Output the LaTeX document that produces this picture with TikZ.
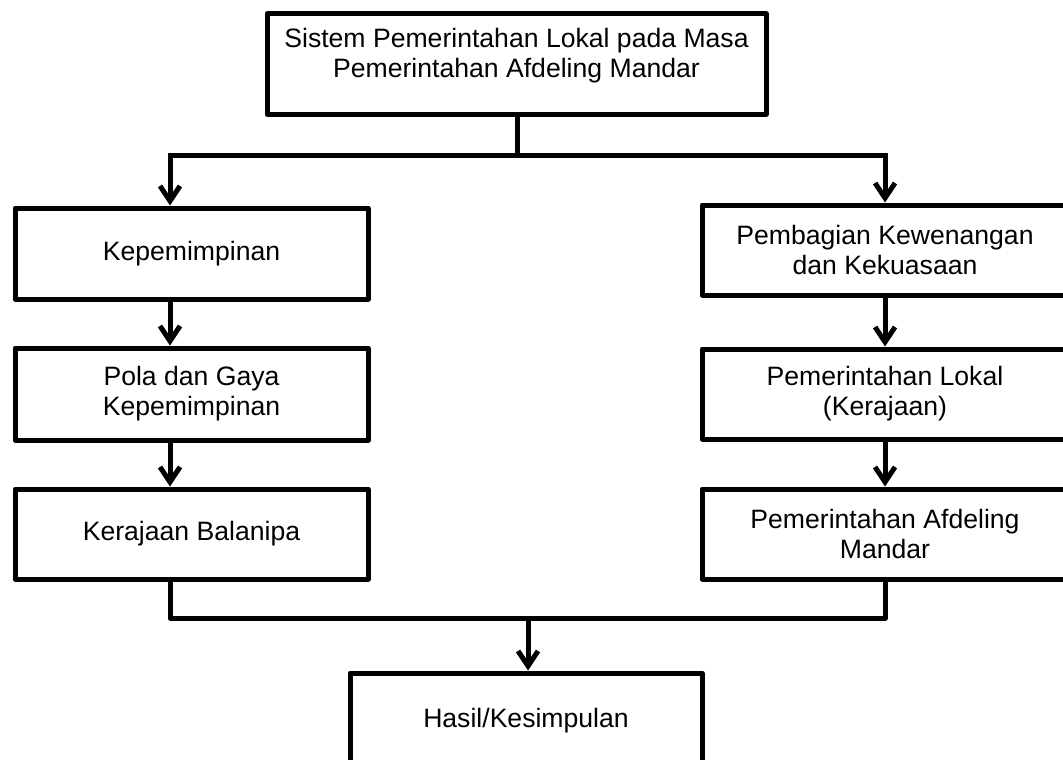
\documentclass[tikz,border=0pt]{standalone}
\usepackage{fontspec}
\setmainfont{Liberation Sans}
\usetikzlibrary{arrows.meta}
\begin{document}
\begin{tikzpicture}[x=1pt,y=1pt,
  box/.style={draw=black, line width=5pt, line join=round, align=center,
    font=\fontsize{26.6}{30}\selectfont, inner sep=0pt},
  lbox/.style={box, minimum width=353pt},
  rbox/.style={box, minimum width=366pt},
  conn/.style={draw=black, line width=5pt, line cap=rect, line join=round},
  arr/.style={conn, -{Straight Barb[length=15pt,width=20pt]}}]
\useasboundingbox (0,0) rectangle (1063,-760);
\clip (0,0) rectangle (1063,-760);
% boxes
\node[box, minimum width=499pt, minimum height=100pt] (top) at (516.5,-64)
  {\raisebox{8pt}[\height][\depth]{\begin{tabular}{@{}c@{}}Sistem Pemerintahan Lokal pada Masa\\Pemerintahan Afdeling Mandar\end{tabular}}};
\node[lbox, minimum height=91pt] (l1) at (191.5,-253.5) {Kepemimpinan};
\node[lbox, minimum height=92pt] (l2) at (191.5,-394) {Pola dan Gaya\\Kepemimpinan};
\node[lbox, minimum height=90pt] (l3) at (191.5,-534) {Kerajaan Balanipa};
\node[rbox, minimum height=90pt] (r1) at (885,-250) {Pembagian Kewenangan\\dan Kekuasaan};
\node[rbox, minimum height=90pt] (r2) at (885,-394) {Pemerintahan Lokal\\(Kerajaan)};
\node[rbox, minimum height=90pt] (r3) at (885,-534) {Pemerintahan Afdeling\\Mandar};
\node[box, minimum width=352pt, minimum height=95pt] (bot) at (526,-720.5) {Hasil/Kesimpulan};
% junction coordinates
\coordinate (jt) at (517,-155);
\coordinate (jl) at (170,-155);
\coordinate (jr) at (885,-155);
\coordinate (bl) at (170,-618);
\coordinate (br) at (885,-618);
\coordinate (bm) at (528,-618);
% connectors
\draw[conn] (top.south -| jt) -- (jt);
\draw[conn] (jl) -- (jr);
\draw[arr] (jl) -- (jl |- l1.north);
\draw[arr] (jr) -- (jr |- r1.north);
\draw[arr] (l1.south -| jl) -- (l2.north -| jl);
\draw[arr] (l2.south -| jl) -- (l3.north -| jl);
\draw[arr] (r1.south -| jr) -- (r2.north -| jr);
\draw[arr] (r2.south -| jr) -- (r3.north -| jr);
\draw[conn] (l3.south -| bl) -- (bl) -- (br) -- (r3.south -| br);
\draw[arr] (bm) -- (bm |- bot.north);
\end{tikzpicture}
\end{document}
